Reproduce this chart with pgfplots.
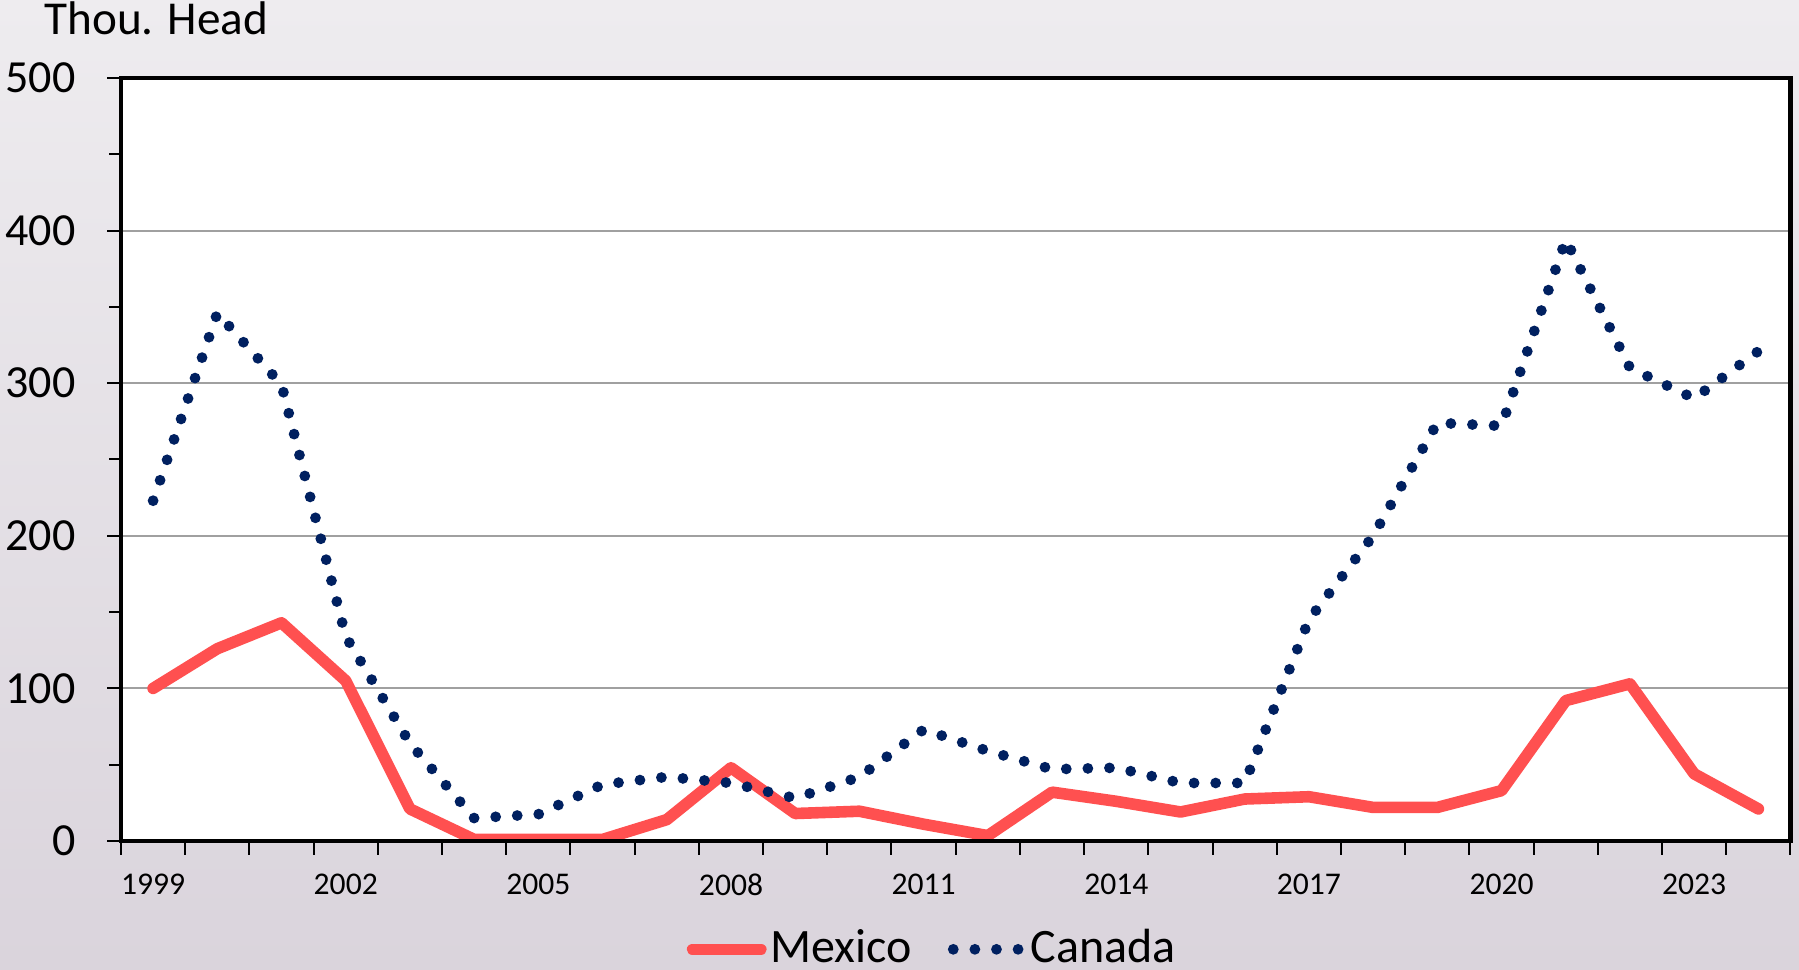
\documentclass[border=0pt]{standalone}
\usepackage{fontspec}
\setmainfont{Carlito}
\usepackage{pgfplots}
\pgfplotsset{compat=1.18}
\definecolor{mexred}{HTML}{FF5050}
\definecolor{cannavy}{HTML}{002060}
\definecolor{gridgray}{RGB}{160,160,160}
\definecolor{bgtop}{HTML}{EEECEF}
\definecolor{bgbot}{HTML}{DAD4DC}

\begin{document}
\begin{tikzpicture}
\begin{scope}[x=0.25pt,y=0.25pt]
\shade[top color=bgtop,bottom color=bgbot] (0,0) rectangle (1799,970);
\node[anchor=base west,inner sep=0pt,font=\fontsize{11.8}{14}\selectfont] at (43.6,935) {Thou. Head};
\end{scope}
\begin{axis}[
 at={(30.25pt,32.25pt)}, anchor=south west, scale only axis,
 width=417.375pt, height=190.75pt,
 xmin=1998.5, xmax=2024.5, ymin=0, ymax=500,
 axis background/.style={fill=white},
 axis line style={line width=1.1pt, black},
 tick align=outside,
 xtick pos=left, ytick pos=left,
 tick style={black, line width=0.5pt},
 major tick length=3.5pt, minor tick length=3pt,
 xtick={1998.5,1999.5,...,2024.5}, xticklabels={},
 extra x ticks={1999,2002,2005,2008,2011,2014,2017,2020,2023},
 extra x tick labels={1999,2002,2005,2008,2011,2014,2017,2020,2023},
 extra x tick style={major tick length=0pt, tick style={draw=none},
   xticklabel style={font=\fontsize{7.9}{9}\selectfont, anchor=center, inner sep=0pt, yshift=-10.9pt}},
 ytick={0,100,...,500}, minor ytick={50,150,...,450},
 yticklabel style={font=\fontsize{11.5}{13}\selectfont, anchor=east, inner sep=0pt, xshift=-7.7pt},
 ymajorgrids, major grid style={gridgray, line width=0.5pt},
 /pgf/number format/assume math mode=true,
 legend style={at={(axis description cs:0.4866,-0.142)}, anchor=center, draw=none, fill=none,
   font=\fontsize{12}{14}\selectfont, legend columns=2, nodes={inner sep=1pt},
   /tikz/every even column/.append style={column sep=8pt}},
]
\addplot[mexred, line width=2.9pt, line join=round, line cap=round] coordinates {
(1999,100) (2000,126) (2001,143) (2002,105) (2003,21) (2004,1) (2005,1) (2006,1)
(2007,14) (2008,48) (2009,18) (2010,19.5) (2011,11) (2012,3.5) (2013,32) (2014,26)
(2015,19) (2016,27.5) (2017,29) (2018,22) (2019,22) (2020,33) (2021,92) (2022,103)
(2023,44) (2024,21)};
\addplot[cannavy, line width=2.7pt, line cap=round, dash pattern=on 0pt off 5.4pt] coordinates {
(1999,223) (2000,346) (2001,299) (2002,134) (2003,64) (2004,15) (2005,17.5) (2006,37)
(2007,42) (2008,38) (2009,28) (2010,42) (2011,73) (2012,59) (2013,47) (2014,48)
(2015,38) (2016,38) (2017,145) (2018,200) (2019,274) (2020,272) (2021,394) (2022,310)
(2023,290) (2024,321)};
\legend{Mexico,Canada}
\end{axis}
\draw[line width=1.1pt] (30.25pt,32.25pt) rectangle (447.625pt,223pt);
\pgfresetboundingbox
\useasboundingbox (0pt,0pt) rectangle (449.75pt,242.5pt);
\end{tikzpicture}
\end{document}
